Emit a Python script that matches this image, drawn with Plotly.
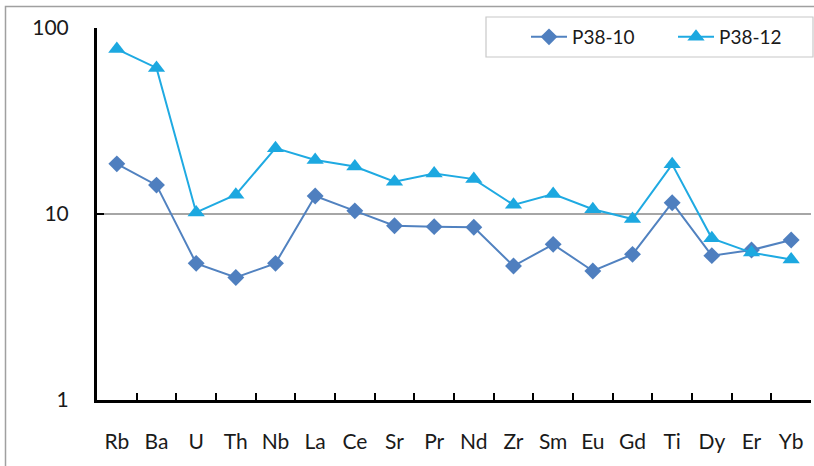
import plotly.graph_objects as go

elements = ["Rb", "Ba", "U", "Th", "Nb", "La", "Ce", "Sr", "Pr", "Nd",
            "Zr", "Sm", "Eu", "Gd", "Ti", "Dy", "Er", "Yb"]
p38_10 = [18.6, 14.3, 5.43, 4.56, 5.43, 12.5, 10.4, 8.65, 8.55, 8.48,
          5.25, 6.87, 4.94, 6.07, 11.5, 5.97, 6.4, 7.25]
p38_12 = [77, 61, 10.2, 12.7, 22.6, 19.5, 18.0, 14.9, 16.5, 15.4,
          11.2, 12.8, 10.6, 9.4, 18.5, 7.4, 6.2, 5.7]
ytick_vals = [1, 10, 100]
ytick_text = ["1", "10", "100"]

W, H = 814, 466
L, R, T, B = 97, 3, 28, 66
pw, ph = W - L - R, H - T - B

def px(x):
    return (x - L) / pw

def py(y):
    return (H - B - y) / ph

FONT = "Lato, 'Open Sans', sans-serif"

fig = go.Figure()
fig.add_trace(go.Scatter(
    x=elements, y=p38_10, name="P38-10", mode="lines+markers",
    line=dict(color="#5182C0", width=2),
    marker=dict(symbol="diamond", size=13, color="#4F7FBF"),
))
fig.add_trace(go.Scatter(
    x=elements, y=p38_12, name="P38-12", mode="lines+markers",
    line=dict(color="#1FAAE2", width=2),
    marker=dict(symbol="triangle-up", size=15, color="#1CA8E0"),
))

fig.update_layout(
    width=W, height=H,
    margin=dict(l=L, r=R, t=T, b=B, pad=0, autoexpand=False),
    paper_bgcolor="white", plot_bgcolor="white",
    font=dict(family=FONT, size=21, color="#1a1a1a"),
    showlegend=True,
    legend=dict(
        orientation="h", x=px(526), y=py(37), xanchor="left", yanchor="middle",
        bgcolor="rgba(0,0,0,0)", borderwidth=0, itemwidth=36,
        font=dict(family=FONT, size=19, color="#1a1a1a"),
        entrywidth=96, entrywidthmode="pixels",
    ),
    xaxis=dict(
        type="category", showgrid=False, zeroline=False, automargin=False,
        showline=True, linecolor="black", linewidth=3,
        ticks="inside", ticklen=7, tickwidth=2, tickcolor="black",
        tickson="boundaries", ticklabelstandoff=21, tickangle=0,
        tickfont=dict(family=FONT, size=21, color="#1a1a1a"),
        range=[-0.5, len(elements) - 0.5],
    ),
    yaxis=dict(
        type="log", range=[0, 2], automargin=False,
        tickvals=ytick_vals, ticktext=ytick_text,
        showgrid=True, gridcolor="#A6A6A6", gridwidth=1.5,
        showline=True, linecolor="black", linewidth=3,
        ticks="inside", ticklen=7, tickwidth=2, tickcolor="black",
        ticklabelstandoff=21, zeroline=False,
        tickfont=dict(family=FONT, size=21, color="#1a1a1a"),
    ),
    shapes=[
        dict(type="rect", xref="paper", yref="paper",
             x0=px(5.5), x1=px(820), y0=py(470), y1=py(6.5),
             line=dict(color="#A0A0A0", width=1.5), fillcolor="rgba(0,0,0,0)",
             layer="below"),
        dict(type="rect", xref="paper", yref="paper",
             x0=px(486), x1=px(813), y0=py(57), y1=py(17),
             line=dict(color="#C8C8C8", width=1.2), fillcolor="white",
             layer="above"),
    ],
)

fig.write_html("out.html")
